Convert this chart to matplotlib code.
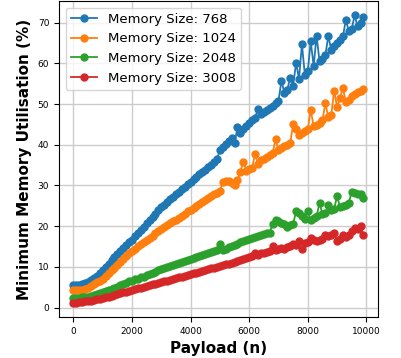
import numpy as np
import matplotlib
matplotlib.use("Agg")
import matplotlib.pyplot as plt

# Payload sizes (n)
payload = np.arange(0, 10000, 100)

# Minimum memory utilisation (%) per memory size
util_768 = [
    5.5, 5.6, 5.6, 5.8, 6.0, 6.3, 6.7, 7.2, 7.8, 8.5,
    9.2, 10.0, 10.8, 11.6, 12.4, 13.1, 13.9, 14.6, 15.3, 16.0,
    16.7, 17.5, 18.3, 19.1, 19.9, 20.7, 21.5, 22.3, 23.1, 23.9,
    24.7, 25.3, 25.9, 26.6, 27.2, 27.9, 28.5, 29.1, 29.7, 30.3,
    30.9, 31.5, 32.1, 32.7, 33.3, 33.9, 34.5, 35.1, 35.8, 36.4,
    38.7, 39.5, 40.3, 41.0, 41.7, 40.4, 44.3, 43.0, 43.8, 44.6,
    45.4, 46.0, 46.6, 48.9, 47.6, 48.0, 48.5, 49.0, 49.6, 50.2,
    50.8, 55.7, 52.8, 53.5, 56.5, 54.5, 60.2, 56.2, 64.7, 57.2,
    58.1, 65.4, 59.4, 66.8, 60.5, 61.0, 62.0, 66.7, 63.4, 64.2,
    65.0, 65.8, 66.7, 70.7, 67.9, 68.5, 71.8, 69.1, 70.0, 71.3,
]
util_1024 = [
    4.2, 4.2, 4.3, 4.4, 4.6, 4.9, 5.3, 5.7, 6.2, 6.6,
    7.1, 7.7, 8.4, 9.1, 9.8, 10.5, 11.2, 11.9, 12.6, 13.3,
    13.9, 14.5, 15.0, 15.5, 16.1, 16.6, 17.1, 17.6, 18.2, 18.7,
    19.2, 19.7, 20.2, 20.7, 21.2, 21.6, 22.1, 22.6, 23.1, 23.6,
    24.0, 24.5, 25.0, 25.4, 25.9, 26.4, 26.8, 27.3, 27.8, 28.2,
    28.6, 30.9, 31.2, 31.0, 30.6, 30.2, 31.3, 33.4, 35.8, 33.6,
    34.0, 34.3, 37.8, 35.2, 36.2, 36.6, 37.1, 37.6, 38.0, 41.3,
    38.6, 39.2, 39.6, 40.0, 40.4, 45.1, 43.8, 42.3, 42.8, 43.3,
    43.8, 48.6, 44.5, 44.8, 45.4, 46.0, 50.2, 46.8, 47.3, 53.3,
    49.2, 51.6, 53.9, 50.4, 51.0, 52.0, 52.5, 52.9, 53.3, 53.7,
]
util_2048 = [
    2.3, 2.3, 2.4, 2.5, 2.6, 2.7, 2.9, 3.1, 3.3, 3.5,
    3.7, 4.0, 4.2, 4.5, 4.8, 5.1, 5.5, 5.8, 6.1, 6.4,
    6.6, 6.9, 7.1, 7.4, 7.6, 7.9, 8.2, 8.5, 8.8, 9.1,
    9.4, 9.6, 9.9, 10.1, 10.4, 10.6, 10.9, 11.1, 11.4, 11.6,
    11.9, 12.1, 12.4, 12.6, 12.9, 13.1, 13.4, 13.6, 13.9, 14.1,
    15.5, 14.2, 14.5, 14.8, 15.1, 15.4, 15.7, 16.0, 16.3, 16.6,
    16.9, 17.1, 17.4, 17.6, 17.8, 18.0, 18.2, 18.4, 20.6, 21.6,
    21.2, 20.8, 20.6, 19.8, 20.2, 20.6, 23.6, 23.2, 22.6, 21.8,
    23.6, 21.6, 22.0, 22.4, 25.7, 23.0, 23.2, 25.3, 24.0, 24.3,
    27.3, 24.8, 25.0, 25.3, 25.7, 28.5, 28.1, 28.0, 27.8, 26.9,
]
util_3008 = [
    1.2, 1.2, 1.3, 1.4, 1.5, 1.6, 1.7, 1.9, 2.0, 2.2,
    2.3, 2.5, 2.7, 2.9, 3.1, 3.3, 3.5, 3.7, 3.9, 4.1,
    4.3, 4.5, 4.7, 4.9, 5.1, 5.3, 5.5, 5.7, 5.9, 6.0,
    6.2, 6.4, 6.6, 6.8, 7.0, 7.2, 7.4, 7.6, 7.8, 8.0,
    8.2, 8.4, 8.6, 8.8, 9.0, 9.2, 9.4, 9.6, 9.8, 10.0,
    10.2, 10.4, 10.6, 10.8, 11.0, 11.2, 11.5, 11.7, 11.9, 12.1,
    12.4, 12.6, 13.4, 12.9, 13.5, 13.3, 13.6, 13.9, 15.1, 14.2,
    14.4, 14.7, 14.5, 14.8, 15.0, 15.5, 15.3, 16.3, 14.3, 15.9,
    16.2, 17.1, 16.5, 16.3, 16.6, 16.9, 17.9, 17.6, 17.9, 18.4,
    16.3, 16.8, 17.9, 17.4, 17.8, 18.8, 19.6, 19.2, 20.0, 17.9,
]

memory_sizes = [768, 1024, 2048, 3008]
series = [util_768, util_1024, util_2048, util_3008]

fig = plt.figure(figsize=(4.01, 3.58), dpi=100)
ax = fig.add_axes([0.147, 0.1145, 0.7955, 0.8827])

for mem, vals in zip(memory_sizes, series):
    ax.plot(payload, vals, marker='o', markersize=5, linewidth=1.3,
            label="Memory Size: " + str(mem))

ax.grid(True, color='#cccccc', linewidth=1)
ax.set_axisbelow(True)
ax.tick_params(labelsize=6.5)
ax.set_xticks([0, 2000, 4000, 6000, 8000, 10000])
ax.set_xlabel("Payload (n)", fontsize=11, fontweight='bold')
ax.set_ylabel("Minimum Memory Utilisation (%)", fontsize=11, fontweight='bold')
ax.legend(loc='upper left', fontsize=9.5)

fig.savefig("out.png", dpi=100)
